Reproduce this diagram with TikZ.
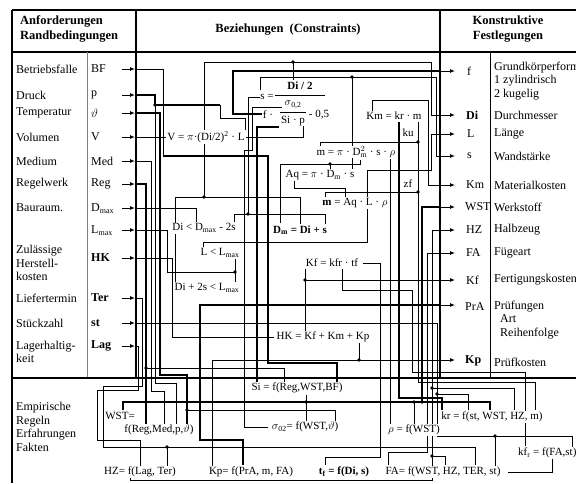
\documentclass[tikz,border=0pt]{standalone}
\usepackage{fontspec}
\setmainfont{Liberation Serif}
\usetikzlibrary{arrows.meta}
\newcommand\labfont{\fontsize{12}{13.5}\selectfont}
\newcommand\fmlfont{\fontsize{11}{12}\selectfont}
\newcommand\hdfont{\fontsize{12.5}{15}\selectfont\bfseries}
\begin{document}
\begin{tikzpicture}[x=1pt,y=-1pt,
  lab/.style={anchor=west,inner sep=0pt,font=\labfont,align=left},
  fml/.style={fill=white,inner sep=1pt,font=\fmlfont},
  wire/.style={line width=0.85pt},
  wthick/.style={line width=1.7pt},
  frame/.style={line width=1.1pt},
  bigframe/.style={line width=2.8pt},
  arr/.style={line width=0.9pt,-{Latex[length=5pt,width=4pt]}},
  jd/.style={circle,fill=black,inner sep=0pt,minimum size=3.8pt}]
\clip (0,0) rectangle (576,483);
\fill[white] (0,0) rectangle (576,483);

% ---------------- frame ----------------
\draw[frame] (12,10) -- (576,10);
\draw[frame] (12,10) -- (12,483);
\draw[frame] (12,52) -- (576,52);
\draw[line width=0.7pt,gray] (87,52) -- (87,378);
\draw[line width=0.7pt] (490,52) -- (490,378);
\draw[bigframe] (136,10) -- (136,378);
\draw[bigframe] (440,10) -- (440,378);
\draw[bigframe] (12,378) -- (576,378);

% ---------------- headers ----------------
\node[lab,font=\hdfont] (hA) at (20,29) {Anforderungen\\Randbedingungen};
\node[font=\hdfont] (hB) at (288,30) {Beziehungen\ \ (Constraints)};
\node[font=\hdfont,align=center] (hK) at (508,29) {Konstruktive\\Festlegungen};

% ---------------- left labels ----------------
\node[lab] (lBF) at (16,69) {Betriebsfalle};
\node[lab] (lp) at (16,95) {Druck};
\node[lab] (lT) at (16,113) {Temperatur};
\node[lab] (lV) at (16,137) {Volumen};
\node[lab] (lMed) at (16,161) {Medium};
\node[lab] (lReg) at (16,184) {Regelwerk};
\node[lab] (lBau) at (16,208) {Bauraum.};
\node[lab] (lHK) at (16,263) {Zulässige\\Herstell-\\kosten};
\node[lab] (lTer) at (16,298) {Liefertermin};
\node[lab] (lst) at (16,323) {Stückzahl};
\node[lab] (lLag) at (16,352) {Lagerhaltig-\\keit};
\node[lab] (lEmp) at (16,427) {Empirische\\Regeln\\Erfahrungen\\Fakten};

\node[lab] (sBF) at (91,69) {BF};
\node[lab] (sp) at (91,95) {p};
\node[lab] (sT) at (91,113) {$\vartheta$};
\node[lab] (sV) at (91,137) {V};
\node[lab] (sMed) at (91,161) {Med};
\node[lab] (sReg) at (91,184) {Reg};
\node[lab] (sDmax) at (91,209) {D\textsubscript{max}};
\node[lab] (sLmax) at (91,231) {L\textsubscript{max}};
\node[lab] (sHK) at (91,258) {\textbf{HK}};
\node[lab] (sTer) at (91,298) {\textbf{Ter}};
\node[lab] (sst) at (91,323) {\textbf{st}};
\node[lab] (sLag) at (91,346) {\textbf{Lag}};

% left arrows
\foreach \yy in {69,95,113,137,161,184,208,230,258,298,323,346}
  \draw[arr] (122,\yy) -- (135,\yy);

% ---------------- right labels ----------------
\node[lab] (rf) at (467,71) {f};
\node[lab] (rDi) at (466,115) {\textbf{Di}};
\node[lab] (rL) at (467,134) {L};
\node[lab] (rs) at (467,156) {s};
\node[lab] (rKm) at (466,185) {Km};
\node[lab] (rWST) at (465,207) {WST};
\node[lab] (rHZ) at (466,230) {HZ};
\node[lab] (rFA) at (466,253) {FA};
\node[lab] (rKf) at (466,280) {Kf};
\node[lab] (rPrA) at (465,307) {PrA};
\node[lab] (rKp) at (465,361) {\textbf{Kp}};

\node[lab] (dGr) at (494,81) {Grundkörperform\\1 zylindrisch\\2 kugelig};
\node[lab] (dDi) at (494,115) {Durchmesser};
\node[lab] (dL) at (494,134) {Länge};
\node[lab] (ds) at (494,156) {Wandstärke};
\node[lab] (dKm) at (494,185) {Materialkosten};
\node[lab] (dWST) at (494,207) {Werkstoff};
\node[lab] (dHZ) at (494,230) {Halbzeug};
\node[lab] (dFA) at (494,253) {Fügeart};
\node[lab] (dKf) at (494,280) {Fertigungskosten};
\node[lab] (dPrA) at (494,320) {Prüfungen\\\ \ Art\\\ \ Reihenfolge};
\node[lab] (dKp) at (494,362) {Prüfkosten};

\foreach \yy in {71,115,134,156,185,207,230,253,280,305,360}
  \draw[arr] (440,\yy) -- (455,\yy);

% ---------------- wires ----------------
% f
\draw[wthick] (262,114) -- (233,114) -- (233,71) -- (440,71);
% Di
\draw[wire] (440,115) -- (431,115) -- (431,62) -- (204,62) -- (204,197);
\draw[wire] (293,62) -- (293,80);
\draw[wire] (175,223) -- (175,197) -- (300,197) -- (300,224);
\draw[wire] (175,234) -- (175,282);
% s
\draw[wire] (440,156) -- (436,156) -- (436,77) -- (260,77) -- (260,90);
\draw[wire] (352,77) -- (352,170);
\draw[wire] (262,97) -- (248,97) -- (248,214);
\draw[wire] (234,222) -- (234,214) -- (325,214) -- (325,224);
% L
\draw[wire] (440,134) -- (431,134) -- (431,170) -- (367,170) -- (367,242) -- (203,242) -- (203,247);
% Km
\draw[wire] (372,112) -- (372,100) -- (428,100) -- (428,185) -- (440,185);
% kr
\draw[wthick] (399,122) -- (399,398) -- (442,398) -- (442,410);
% m
\draw[wire] (320,147) -- (320,142) -- (418,142);
\draw[wire] (418,122) -- (418,382) -- (535,382) -- (535,410);
\draw[wire] (325,197) -- (325,192) -- (418,192);
% Dm
\draw[wire] (280,223) -- (280,164) -- (360,164) -- (360,160);
\draw[wire] (330,164) -- (330,169);
% Aq
\draw[wire] (294,181) -- (294,188) -- (345,188) -- (345,197);
% rho
\draw[wire] (390,159) -- (390,424);
% p
\draw[wthick] (136,95) -- (155,95) -- (155,105) -- (220,105);
\draw[wire] (220,105) -- (220,118) -- (245,118) -- (245,137) -- (303,137) -- (303,126);
\draw[wire] (155,105) -- (155,383) -- (176,383) -- (176,424);
% sigma
\draw[wire] (268,427) -- (244,427) -- (244,150) -- (252,150) -- (252,107) -- (282,107);
% Si
\draw[wthick] (257,382) -- (257,127) -- (279,127);
% BF
\draw[wire] (136,69) -- (163,69) -- (163,156);
\draw[wthick] (163,156) -- (268,156) -- (268,363) -- (337,363) -- (337,382);
% theta
\draw[wthick] (136,113) -- (160,113) -- (160,375) -- (187,375) -- (187,424);
\draw[wire] (187,410) -- (335,410) -- (335,421);
% V
\draw[wire] (136,137) -- (170,137);
% Med
\draw[wire] (136,161) -- (151,161) -- (151,391) -- (164,391) -- (164,424);
% Reg
\draw[wthick] (136,184) -- (146,184) -- (146,424);
\draw[wire] (146,368) -- (284,368) -- (284,382);
% Dmax
\draw[wire] (136,208) -- (196,208) -- (196,222);
% Lmax
\draw[wire] (136,230) -- (167,230) -- (167,272) -- (235,272);
\draw[wire] (235,259) -- (235,282);
% HK
\draw[wire] (136,258) -- (172,258) -- (172,337) -- (274,337);
% Ter
\draw[wire] (136,298) -- (142,298) -- (142,386) -- (103,386) -- (103,447) -- (475,447) -- (475,465);
\draw[wire] (167,447) -- (167,466);
% st
\draw[wire] (136,323) -- (437,323) -- (437,436) -- (572,436) -- (572,447);
\draw[wire] (437,394) -- (468,394) -- (468,410);
\draw[wire] (495,436) -- (495,466);
% Lag
\draw[wire] (136,346) -- (138,346) -- (138,390) -- (97,390) -- (97,440) -- (140,440) -- (140,466);
% WST
\draw[wthick] (123,410) -- (123,402) -- (422,402) -- (422,207) -- (440,207);
\draw[wthick] (422,402) -- (490,402) -- (490,410);
\draw[wire] (306,395) -- (306,421);
\draw[wire] (414,402) -- (414,424);
% HZ
\draw[wire] (440,230) -- (432,230) -- (432,480) -- (130,480) -- (130,478);
\draw[wire] (432,388) -- (514,388) -- (514,410);
\draw[wire] (432,456) -- (445,456) -- (445,465);
% Kf
\draw[wire] (305,269) -- (305,331);
\draw[wire] (305,280) -- (440,280);
% kfr
\draw[wire] (342,269) -- (342,290) -- (412,290) -- (412,372) -- (525,372) -- (525,446);
% tf
\draw[wire] (325,465) -- (325,457) -- (380,457) -- (380,263) -- (363,263);
% PrA
\draw[wthick] (440,305) -- (200,305) -- (200,440) -- (243,440) -- (243,465);
% Kp
\draw[wire] (212,466) -- (212,360) -- (440,360);
\draw[wire] (359,343) -- (359,360);
% FA
\draw[wire] (440,253) -- (427,253) -- (427,452) -- (388,452) -- (388,465);
\draw[wire] (508,472) -- (552,472) -- (552,459);

% junction dots
\foreach \p in {(293,62),(204,197),(352,77),(248,214),(418,142),(418,192),(330,164),
  (155,105),(187,410),(146,368),(235,272),(167,447),(437,394),(495,436),
  (306,402),(414,402),(422,402),(432,388),(432,456),(305,280),(359,360)}
  \node[jd] at \p {};

% ---------------- formulas ----------------
\node[fml] (V) at (206,137) {V = $\pi$·(Di/2)\textsuperscript{2} · L};
\node[fml,inner sep=0.5pt] (sEq) at (267,97) {s =};
\node[fml,inner sep=0.5pt] (DiH) at (300,86) {\textbf{Di / 2}};
\draw[line width=0.9pt] (275,95) -- (325,95);
\node[fml,inner sep=0.5pt] (fdot) at (268,115) {f ·};
\node[fml,inner sep=0.5pt] (sig) at (293,105) {$\sigma$\textsubscript{0,2}};
\draw[line width=0.7pt] (280,112) -- (306,112);
\node[fml,inner sep=0.5pt] (Stp) at (293,121) {Si · p};
\node[fml,inner sep=0.5pt] (m05) at (319,115) {- 0,5};
\node[fml] (Km) at (394,116) {Km = kr · m};
\node[fml,inner sep=0.5pt] (ku) at (408,133) {ku};
\node[fml,inner sep=0.5pt] (mpi) at (356,152) {m = $\pi$ · D$^{2}_{\mathrm{m}}$ · s · $\rho$};
\node[fml] (Aq) at (320,175) {Aq = $\pi$ · D\textsubscript{m} · s};
\node[fml] (mAq) at (355,203) {\textbf{m} = Aq · L · $\rho$};
\node[fml] (Dm) at (300,230) {\textbf{D\textsubscript{m} = Di + s}};
\node[fml,inner sep=0.5pt] (zf) at (408,184) {zf};
\node[fml] (DiD) at (204,228) {Di < D\textsubscript{max} - 2s};
\node[fml] (LL) at (220,253) {L < L\textsubscript{max}};
\node[fml] (Di2s) at (207,288) {Di + 2s < L\textsubscript{max}};
\node[fml] (Kf) at (332,263) {Kf = kfr · tf};
\node[fml] (HK) at (323,337) {HK = Kf + Km + Kp};
\node[fml] (Si) at (297,388) {Si = f(Reg,WST,BF)};
\node[fml] (sig02) at (305,427) {$\sigma$\textsubscript{02}= f(WST,$\vartheta$)};
\node[fml] (rho) at (414,430) {$\rho$ = f(WST)};
\node[fml] (kr) at (492,417) {kr = f(st, WST, HZ, m)};
\node[fml,anchor=west] (kfr) at (517,453) {kf\textsubscript{r} = f(FA,st)};
\node[fml] (WSTa) at (120,416) {WST=};
\node[fml] (WSTb) at (159,430) {f(Reg,Med,p,$\vartheta$)};
\node[fml] (HZf) at (140,472) {HZ= f(Lag, Ter)};
\node[fml] (Kpf) at (251,472) {Kp= f(PrA, m, FA)};
\node[fml] (tff) at (344,472) {\textbf{t\textsubscript{f} = f(Di, s)}};
\node[fml] (FAf) at (443,472) {FA= f(WST, HZ, TER, st)};
\end{tikzpicture}
\end{document}
